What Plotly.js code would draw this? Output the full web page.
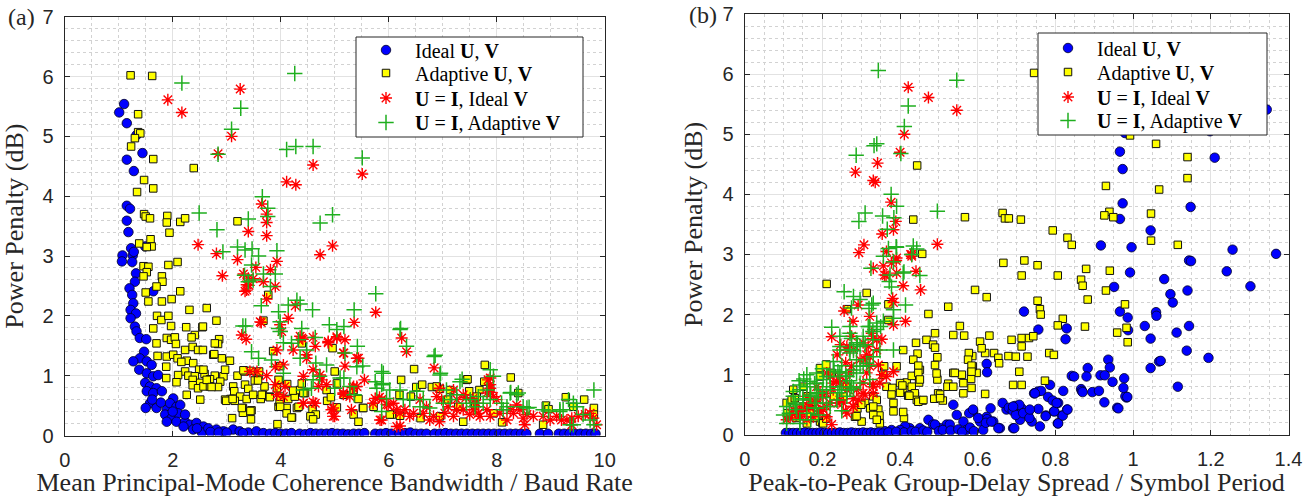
<!DOCTYPE html>
<html><head><meta charset="utf-8">
<script src="https://cdn.plot.ly/plotly-3.0.1.min.js"></script>
<style>html,body{margin:0;padding:0;background:#fff}#chart{width:1316px;height:497px}</style>
</head><body><div id="chart"></div>
<script>
// ---------- data: panel (a) x = mean principal-mode coherence bandwidth / baud rate ----------
const leftIdealPts = [[1.10,5.54],[1.01,5.40],[1.15,5.22],[1.33,5.02],[1.44,4.72],[1.15,4.61],[1.28,4.42],[1.15,3.84],[1.21,3.79],[1.15,3.59],[1.18,3.40],[1.23,3.13],[1.49,3.16],[1.07,3.01],[1.06,2.91],[1.26,3.01],[1.28,3.07],[1.25,2.90],[1.32,2.71],[1.30,2.57],[1.20,2.46],[1.25,2.35],[1.27,2.21],[1.22,2.10],[1.32,2.04],[1.22,1.96],[1.30,1.82],[1.33,1.74],[1.39,1.63],[1.51,1.61],[1.47,1.40],[1.64,2.41],[1.39,1.29],[1.27,1.24],[1.52,1.24],[1.61,1.18],[1.38,1.10],[1.52,1.04],[1.64,0.99],[1.73,1.01],[1.49,0.88],[1.58,0.82],[1.70,0.79],[1.52,0.74],[1.64,0.71],[1.80,0.74],[1.58,0.54],[1.50,0.46],[1.70,0.46],[1.89,0.43],[2.01,0.62],[1.95,0.54],[2.07,0.48],[2.14,0.51],[1.86,0.35],[1.98,0.29],[2.10,0.37],[1.89,0.23],[2.07,0.23],[2.23,0.23],[2.32,0.18],[2.44,0.21],[2.57,0.15],[2.38,0.10],[2.54,0.05],[2.66,0.12],[2.81,0.10],[2.94,0.07],[3.12,0.10],[3.24,0.07],[3.40,0.05],[3.55,0.07],[3.68,0.04],[2.23,0.35],[1.78,0.55],[1.62,0.60],[2.00,0.40],[2.20,0.15],[2.45,0.12],[2.70,0.06],[2.85,0.05],[3.00,0.05],[3.30,0.04],
[3.80,0.03],[3.90,0.04],[4.00,0.03],[4.10,0.03],[4.20,0.04],[4.35,0.03],[4.45,0.02],[4.55,0.04],[4.65,0.03],[4.75,0.03],[4.85,0.03],[4.95,0.04],[5.05,0.03],[5.15,0.03],[5.25,0.02],[5.35,0.03],[5.45,0.03],[5.55,0.04],[5.75,0.03],[5.85,0.03],[5.95,0.04],[6.05,0.03],[6.20,0.03],[6.30,0.04],[6.40,0.05],[6.50,0.03],[6.60,0.03],[6.70,0.03],[6.85,0.03],[6.95,0.03],[7.05,0.04],[7.15,0.03],[7.25,0.03],[7.35,0.03],[7.45,0.03],[7.55,0.03],[7.65,0.03],[7.75,0.03],[7.85,0.03],[7.95,0.03],[8.05,0.03],[8.15,0.03],[8.25,0.03],[8.35,0.03],[8.45,0.03],[8.55,0.03],[8.80,0.03],[8.95,0.03],[9.15,0.03],[9.25,0.03],[9.35,0.03],[9.45,0.03],[9.55,0.03],[9.65,0.03],[9.75,0.03],[9.83,0.03]];
const leftAdaptPts = [[1.22,6.02],[1.62,6.01],[1.36,5.37],[1.36,5.07],[1.40,5.05],[1.30,4.97],[1.23,4.83],[1.64,4.62],[2.39,4.47],[1.47,4.27],[1.64,4.13],[1.34,4.07],[1.47,3.70],[1.50,3.66],[1.58,3.63],[1.90,3.67],[1.89,3.56],[1.94,3.39],[2.14,3.57],[2.23,3.63],[3.20,3.58],[1.38,3.21],[1.59,3.28],[1.61,3.16],[1.52,3.15],[1.46,2.83],[1.55,2.82],[1.52,2.73],[1.46,2.66],[1.80,2.66],[1.81,2.57],[1.92,2.85],[2.09,2.90],[1.70,2.49],[1.50,2.39],[2.14,2.41],[1.55,2.24],[1.80,2.24],[1.98,2.28],[2.31,2.10],[2.63,2.13],[1.71,2.00],[1.79,1.93],[1.92,2.00],[2.81,1.92],[1.97,1.83],[2.25,1.81],[2.55,1.81],[1.64,1.79],[2.41,1.68],[2.35,1.64],[1.89,1.63],[1.97,1.60],[2.04,1.64],[1.70,1.54],[2.06,1.53],[2.86,1.61],[2.84,1.53],[1.72,1.33],[1.89,1.32],[2.01,1.35],[2.23,1.43],[2.37,1.48],[2.47,1.43],[2.75,1.35],[2.91,1.29],[3.06,1.25],[2.09,1.29],[2.26,1.25],[2.16,1.23],[2.38,1.21],[2.49,1.10],[1.88,1.15],[2.23,1.07],[2.10,1.01],[2.29,1.00],[2.41,0.99],[2.59,1.03],[2.78,1.00],[2.94,0.99],[3.20,1.00],[3.33,1.07],[3.44,1.08],[3.59,1.01],[1.88,0.96],[2.07,0.89],[2.37,0.93],[2.51,0.88],[2.69,0.94],[2.88,0.90],[2.37,0.84],[2.47,0.79],[2.57,0.82],[2.69,0.82],[2.84,0.81],[3.12,0.82],[3.34,0.85],[3.40,0.78],[3.14,0.74],[3.07,0.61],[3.25,0.65],[3.37,0.61],[3.49,0.68],[3.67,0.68],[3.79,0.65],[3.63,0.61],[2.26,0.68],[2.51,0.60],[2.97,0.60],[3.15,0.58],[3.30,0.46],[3.30,0.38],[3.46,0.42],[3.45,0.27],[3.10,0.29],[3.94,0.19],[3.96,0.48],[4.11,0.46],[4.14,0.61],[4.26,0.65],[4.21,0.30],[3.98,0.56],[4.30,0.46],[3.70,0.82],[3.93,0.79],[4.12,0.86],[4.23,0.75],[3.68,1.92],[3.77,2.35],[2.56,1.82],[2.78,1.54],[2.77,1.36],[2.56,1.43],[2.57,1.10],[2.97,1.10],[3.31,1.09],[3.60,1.07],[3.86,1.41],[3.99,1.16],[2.63,0.93],[2.72,0.81],[3.52,0.92],[3.58,0.92],[3.65,0.68],[3.80,0.64],[3.99,0.65],[3.96,0.93],[4.36,0.76],[4.39,0.87],[4.45,0.71],[4.33,0.48],[3.99,0.48],[4.11,0.37],[4.20,0.30],[2.99,0.58],[3.11,0.61],[3.28,0.46],[3.44,0.41],[4.59,0.44],[4.65,0.35],[4.55,0.32],[4.60,0.27],[4.85,0.76],[5.00,1.07],[5.04,0.87],[4.96,1.46],[4.86,0.58],[4.93,0.64],[5.04,0.47],[5.17,0.68],[5.35,0.76],[5.44,0.61],[5.52,0.46],[5.35,0.35],[5.44,0.23],[5.72,0.48],[6.06,0.35],[4.42,0.71],[4.39,1.54],[6.47,1.11],[6.23,0.93],[7.78,1.18],[8.26,0.97],[6.51,0.81],[6.62,0.85],[6.20,0.68],[6.41,0.65],[6.80,0.81],[6.95,0.78],[7.14,0.76],[7.44,0.93],[7.49,0.74],[7.68,0.76],[7.88,0.78],[7.77,0.90],[8.40,0.71],[6.21,0.33],[6.59,0.29],[6.95,0.32],[7.38,0.23],[7.94,0.37],[8.10,0.22],[8.86,0.18],[8.91,0.50],[9.28,0.64],[9.42,0.48],[9.62,0.60],[9.80,0.46],[9.80,0.35],[8.96,0.44],[7.10,0.60],[7.29,0.48],[7.60,0.50],[7.63,0.65],[6.02,0.35],[6.89,0.82],[7.46,0.94],[5.53,0.46]];
const leftUIIdealPts = [[1.91,5.61],[2.17,5.40],[3.25,5.79],[3.09,5.00],[2.84,4.71],[4.60,4.52],[4.11,4.24],[4.28,4.19],[3.65,3.87],[3.74,3.70],[3.74,3.56],[3.40,3.41],[3.74,3.34],[2.47,3.19],[5.51,4.37],[4.96,3.17],[2.81,3.04],[3.20,2.94],[2.92,2.67],[3.31,2.70],[3.40,2.63],[3.49,2.62],[3.37,2.52],[3.37,2.43],[3.68,2.57],[3.90,2.49],[3.74,2.28],[3.62,1.90],[3.93,2.91],[4.27,2.17],[4.14,1.96],[3.99,1.85],[4.02,1.74],[3.28,1.68],[3.36,1.61],[4.39,1.63],[4.60,1.64],[3.93,1.43],[4.23,1.43],[4.48,1.29],[4.05,1.18],[3.43,1.07],[3.56,1.07],[3.74,1.00],[3.90,1.15],[4.60,1.10],[4.73,1.01],[4.42,0.99],[3.90,0.85],[4.08,0.82],[4.05,0.65],[4.42,0.54],[4.60,0.56],[4.70,0.82],[4.73,3.02],[3.54,2.81],[3.81,2.77],[3.41,2.51],[3.34,2.41],[5.76,2.06],[5.36,1.89],[3.64,1.89],[4.41,1.61],[4.64,1.49],[4.88,1.55],[5.04,1.63],[5.19,1.60],[5.17,1.38],[5.44,1.29],[5.19,1.16],[4.76,0.93],[4.85,0.85],[5.16,0.69],[5.31,0.43],[5.41,0.82],[5.55,0.93],[4.97,0.46],[5.00,0.32],[5.75,0.62],[5.87,0.26],[5.83,0.64],[6.15,0.15],[5.99,0.51],[3.93,0.68],[6.24,1.63],[6.33,1.40],[6.84,1.13],[7.84,0.93],[7.88,0.79],[7.94,0.65],[6.21,0.16],[6.09,0.54],[6.30,0.43],[6.46,0.37],[6.64,0.37],[6.83,0.32],[6.94,0.23],[7.04,0.37],[7.20,0.32],[7.38,0.43],[7.50,0.35],[7.66,0.37],[7.82,0.43],[6.94,0.79],[7.20,0.76],[7.38,0.68],[7.56,0.62],[6.98,0.60],[8.06,0.37],[8.19,0.26],[8.31,0.37],[8.37,0.51],[8.49,0.29],[8.52,0.18],[8.56,0.35],[8.86,0.32],[8.99,0.26],[9.20,0.26],[9.39,0.29],[9.51,0.32],[9.64,0.35],[9.79,0.29],[9.85,0.18],[9.39,0.18],[6.58,0.60],[7.43,0.63],[7.88,0.96],[7.88,0.85],[7.89,0.72],[4.36,1.66],[4.48,1.35],[4.88,1.57],[5.04,1.65],[5.16,1.38],[5.41,1.29],[5.35,0.82],[4.94,0.43],[4.97,0.32],[5.84,0.26],[4.64,0.54],[4.42,0.54],[5.16,0.71],[5.28,0.65],[5.33,0.80],[5.71,0.54],[5.87,0.60],[5.96,0.52],[6.21,0.37],[6.15,0.43],[6.39,0.32],[6.70,0.48],[7.10,0.48],[7.26,0.43],[7.57,0.43],[7.69,0.32],[7.88,0.32],[8.00,0.60],[8.25,0.43],[8.43,0.43],[8.68,0.32],[9.11,0.32],[9.30,0.26],[9.73,0.37],[6.89,0.65],[7.26,0.60],[7.63,0.54],[7.82,0.71],[6.76,0.26]];
const leftUIAdaptPts = [[2.17,5.89],[4.26,6.05],[3.26,5.47],[3.09,5.12],[2.84,4.70],[4.11,4.78],[4.28,4.83],[4.60,4.83],[3.66,3.99],[3.76,3.80],[3.76,3.66],[2.49,3.72],[3.40,3.62],[2.82,3.44],[4.73,3.55],[4.96,3.69],[5.51,4.64],[2.93,3.07],[3.20,3.15],[3.34,3.10],[3.47,3.12],[3.93,3.09],[3.59,3.00],[3.46,2.85],[3.33,2.68],[3.49,2.60],[3.68,2.70],[3.90,2.70],[3.81,2.49],[3.40,2.57],[3.64,2.17],[3.96,2.07],[4.14,2.18],[4.30,2.26],[4.59,2.10],[3.99,1.90],[3.30,1.83],[3.35,1.83],[3.96,1.79],[3.99,1.74],[5.36,2.10],[5.76,2.37],[4.90,1.85],[5.04,1.77],[5.17,1.82],[6.21,1.77],[4.39,1.79],[4.64,1.64],[4.05,1.55],[4.20,1.54],[4.33,1.60],[3.46,1.40],[4.48,1.43],[4.36,1.29],[3.59,1.29],[3.83,1.26],[4.65,1.21],[4.85,1.18],[5.42,1.49],[5.19,1.38],[5.41,1.15],[5.52,1.16],[5.87,1.07],[4.05,1.04],[4.60,0.93],[4.72,0.99],[5.10,0.96],[5.17,0.96],[5.75,0.90],[4.42,0.76],[4.57,0.79],[5.00,0.79],[5.28,0.82],[5.36,0.68],[5.78,0.79],[5.87,0.85],[6.02,0.76],[5.96,0.62],[5.87,0.40],[6.33,1.49],[6.84,1.32],[7.88,1.10],[7.94,0.99],[6.95,1.01],[6.21,0.76],[6.39,0.60],[6.52,0.74],[6.64,0.60],[6.76,0.46],[7.07,0.76],[7.14,0.60],[7.26,0.68],[7.32,0.90],[7.36,0.94],[7.51,0.60],[7.60,0.48],[7.66,0.65],[7.75,0.54],[7.88,0.60],[8.09,0.54],[8.25,0.71],[8.37,0.68],[8.56,0.46],[8.60,0.47],[8.86,0.43],[8.96,0.41],[9.17,0.43],[9.33,0.60],[9.42,0.18],[9.60,0.35],[9.80,0.76],[9.73,0.26],[9.80,0.18],[8.12,0.43],[6.86,1.34],[6.96,1.04],[8.26,0.72],[8.40,0.71],[9.42,0.54],[9.17,0.40],[9.36,0.18],[6.22,1.79],[4.36,2.20],[5.90,1.04],[5.90,0.87],[6.27,0.60],[6.58,0.48],[7.01,0.54],[7.44,0.54],[7.82,0.76],[8.19,0.48],[8.49,0.48],[9.23,0.43],[9.48,0.48]];

// ---------- data: panel (b) x = peak-to-peak group-delay spread / symbol period ----------
const rightIdealPts = [[1.344,5.41],[0.979,5.02],[1.198,5.05],[0.966,4.71],[0.973,4.42],[1.210,4.61],[0.973,3.85],[0.966,3.59],[1.148,3.79],[1.045,3.40],[0.917,3.15],[0.996,3.12],[1.256,3.08],[1.368,3.01],[1.144,2.90],[1.149,2.89],[1.241,2.72],[0.992,2.70],[1.080,2.59],[1.302,2.47],[0.951,2.46],[1.140,2.40],[1.096,2.34],[1.102,2.20],[0.719,2.05],[0.966,2.05],[1.059,2.04],[1.060,1.98],[0.986,1.95],[1.030,1.81],[1.144,1.81],[0.756,1.75],[0.829,1.77],[0.987,1.74],[1.112,1.70],[0.826,1.59],[1.045,1.60],[1.138,1.40],[1.194,1.28],[1.067,1.22],[1.071,1.23],[0.936,1.25],[0.883,1.11],[0.940,1.12],[1.045,1.11],[0.977,0.94],[1.115,0.80],[0.842,0.98],[0.848,0.97],[0.880,0.97],[0.916,0.99],[0.927,0.99],[0.947,0.88],[0.786,0.83],[0.745,0.69],[0.755,0.72],[0.820,0.73],[0.866,0.76],[0.868,0.73],[0.870,0.71],[0.895,0.71],[0.912,0.73],[0.983,0.62],[0.980,0.64],[0.781,0.63],[0.793,0.57],[0.807,0.53],[0.926,0.54],[0.959,0.45],[0.830,0.42],[0.816,0.32],[0.796,0.39],[0.775,0.32],[0.806,0.19],[0.760,0.14],[0.756,0.43],[0.739,0.22],[0.730,0.37],[0.713,0.44],[0.691,0.11],[0.696,0.48],[0.709,0.25],[0.674,0.42],[0.664,0.53],[0.680,0.45],[0.690,0.40],[0.657,0.11],[0.623,1.18],[0.624,1.04],[0.537,0.50],[0.473,0.25],[0.546,0.33],[0.588,0.39],[0.623,0.30],[0.640,0.22],[0.653,0.11],[0.563,0.22],[0.606,0.22],[0.614,0.08],[0.571,0.08],[0.520,0.17],[0.503,0.11],[0.485,0.17],[0.451,0.11],[0.425,0.11],[0.413,0.14],[0.400,0.08],[0.378,0.08],[0.361,0.06],[0.707,0.50],[0.698,0.33],[0.717,0.36],[0.733,0.28],[0.633,0.44],[0.624,0.26],[0.601,0.28],[0.578,0.36],[0.588,0.42],[0.621,0.20],[0.635,0.22],[0.528,0.17],[0.490,0.17],[0.694,0.11],[0.775,0.31],[0.807,0.19],[0.819,0.32],[0.962,0.44],[0.985,0.63],[0.975,0.78],[0.797,0.39],[0.803,0.53],[0.831,0.42],[0.734,0.42],[0.691,0.47],[0.763,0.73],[0.747,0.69],
[0.106,0.03],[0.115,0.03],[0.125,0.03],[0.135,0.03],[0.145,0.03],[0.155,0.04],[0.165,0.03],[0.175,0.03],[0.185,0.03],[0.195,0.04],[0.205,0.03],[0.215,0.03],[0.225,0.03],[0.235,0.03],[0.245,0.04],[0.255,0.03],[0.265,0.03],[0.275,0.04],[0.285,0.03],[0.295,0.03],[0.305,0.04],[0.315,0.03],[0.325,0.04],[0.335,0.03],[0.345,0.04],[0.355,0.02],[0.370,0.04],[0.390,0.05],[0.410,0.04],[0.430,0.06],[0.440,0.05],[0.460,0.07],[0.470,0.05],[0.500,0.06],[0.510,0.08],[0.530,0.07],[0.550,0.09],[0.560,0.05],[0.580,0.12],[0.590,0.06]];
const rightAdaptPts = [[0.745,6.02],[0.992,4.98],[1.059,4.84],[1.140,4.62],[1.140,4.27],[0.930,4.14],[1.067,4.08],[1.046,3.68],[0.939,3.71],[0.926,3.65],[0.949,3.62],[0.793,3.40],[0.831,3.28],[0.842,3.16],[1.046,3.23],[1.115,3.16],[0.664,3.69],[0.670,3.60],[0.680,3.60],[0.711,3.58],[0.444,4.48],[0.434,3.58],[0.567,3.62],[0.457,3.01],[0.666,2.86],[0.720,2.90],[0.754,2.82],[0.713,2.65],[0.806,2.65],[0.879,2.76],[0.866,2.58],[0.870,2.48],[0.940,2.73],[0.930,2.40],[0.593,2.41],[0.623,2.29],[0.524,2.13],[0.473,2.01],[0.883,2.25],[0.754,2.23],[0.760,2.09],[0.762,2.00],[0.819,1.93],[0.806,1.82],[0.876,1.80],[0.979,2.17],[0.983,1.78],[0.959,1.70],[0.986,1.54],[0.554,1.81],[0.537,1.66],[0.565,1.65],[0.490,1.69],[0.468,1.58],[0.485,1.50],[0.490,1.45],[0.496,1.29],[0.490,1.16],[0.408,1.41],[0.445,1.35],[0.434,1.25],[0.451,1.08],[0.444,0.98],[0.417,0.87],[0.449,0.87],[0.430,0.80],[0.408,0.75],[0.421,0.65],[0.438,0.69],[0.443,0.58],[0.458,0.57],[0.498,0.69],[0.488,0.60],[0.510,0.57],[0.503,0.67],[0.524,0.85],[0.522,0.80],[0.537,1.03],[0.559,1.00],[0.563,0.86],[0.583,1.03],[0.597,1.03],[0.587,1.14],[0.586,1.31],[0.577,1.36],[0.606,1.55],[0.630,1.65],[0.619,1.36],[0.642,1.36],[0.653,1.28],[0.655,1.19],[0.583,0.93],[0.584,0.78],[0.563,0.69],[0.619,0.68],[0.610,1.44],[0.679,1.31],[0.698,1.30],[0.728,1.30],[0.707,1.05],[0.687,1.58],[0.713,1.61],[0.732,1.61],[0.743,1.64],[0.713,1.47],[0.784,1.36],[0.796,1.33],[0.773,0.90],[0.691,0.83],[0.713,0.83],[0.314,2.36],[0.211,2.51],[0.370,2.17],[0.263,2.09],[0.370,1.91],[0.441,1.53],[0.575,1.25],[0.584,1.15],[0.584,1.05],[0.541,1.03],[0.447,1.15],[0.391,1.14],[0.194,1.11],[0.430,0.98],[0.447,1.03],[0.451,0.92],[0.400,0.86],[0.365,0.80],[0.380,0.78],[0.378,0.67],[0.400,0.70],[0.424,0.65],[0.447,0.55],[0.460,0.58],[0.331,0.64],[0.340,0.58],[0.310,0.53],[0.323,0.44],[0.344,0.42],[0.347,0.32],[0.348,0.19],[0.301,0.22],[0.284,0.30],[0.290,0.44],[0.383,0.53],[0.383,0.39],[0.410,0.28],[0.503,0.61],[0.537,0.80],[0.496,0.92],[0.108,0.53],[0.121,0.58],[0.194,0.22],[0.200,0.20],[0.110,0.36],[0.168,0.36],[0.151,0.47],[0.194,0.97],[0.224,1.03],[0.263,0.80],[0.254,0.64],[0.230,0.64],[0.408,0.38],[0.331,0.47],[0.331,0.33],[0.340,0.25],[0.288,0.31],[0.300,0.50],[0.359,1.14],[0.357,1.00],[0.406,0.82],[0.494,1.02],[0.202,0.19],[0.210,0.27],[0.177,0.55],[0.160,0.64],[0.151,0.80],[0.125,0.75],[0.129,0.61],[0.132,0.28],[0.160,0.19],[0.181,0.28],[0.210,1.17]];
const rightUIIdealPts = [[0.421,5.78],[0.473,5.61],[0.546,5.40],[0.411,5.00],[0.400,4.70],[0.342,4.52],[0.285,4.37],[0.331,4.23],[0.336,4.20],[0.377,3.87],[0.389,3.55],[0.383,3.41],[0.354,3.34],[0.307,3.16],[0.496,3.17],[0.430,2.97],[0.430,3.00],[0.441,2.72],[0.408,2.48],[0.453,2.41],[0.414,1.89],[0.294,3.03],[0.365,3.05],[0.357,2.81],[0.378,2.86],[0.391,2.94],[0.331,2.77],[0.360,2.66],[0.391,2.69],[0.381,2.27],[0.427,3.00],[0.383,1.83],[0.322,1.97],[0.279,1.89],[0.256,2.06],[0.292,2.16],[0.224,1.63],[0.275,1.64],[0.327,1.69],[0.330,1.60],[0.353,1.59],[0.318,1.47],[0.340,1.41],[0.263,1.47],[0.280,1.42],[0.238,1.33],[0.314,1.33],[0.310,1.25],[0.322,1.14],[0.344,1.16],[0.275,1.14],[0.260,1.20],[0.383,1.05],[0.353,1.00],[0.331,0.80],[0.305,0.69],[0.310,0.66],[0.211,1.03],[0.220,0.97],[0.245,0.86],[0.260,0.90],[0.228,0.75],[0.210,0.69],[0.185,0.58],[0.168,0.47],[0.194,0.39],[0.211,0.30],[0.224,0.17],[0.142,0.30],[0.160,0.25],[0.121,0.36],[0.108,0.25],[0.140,0.40],[0.185,0.80],[0.254,0.53],[0.279,0.47],[0.260,0.40],[0.240,0.53],[0.280,0.60],[0.330,0.84],[0.364,2.65],[0.390,2.90],[0.383,2.20],[0.247,1.50],[0.237,0.89],[0.202,0.64],[0.181,0.55],[0.164,0.47],[0.145,0.39],[0.117,0.28],[0.263,0.36],[0.292,0.58],[0.210,0.47],[0.190,0.40],[0.125,0.42],[0.151,0.47],[0.177,0.30],[0.202,0.42],[0.220,0.53],[0.245,0.58],[0.263,0.75],[0.288,0.75],[0.305,0.86],[0.314,1.03],[0.271,1.03],[0.245,0.97],[0.228,0.86],[0.297,1.25],[0.322,1.30],[0.340,1.58],[0.305,1.53],[0.263,1.41],[0.194,0.69],[0.160,0.64],[0.142,0.33],[0.280,0.47],[0.331,0.69],[0.348,0.86],[0.365,0.97]];
const rightUIAdaptPts = [[0.344,6.06],[0.546,5.90],[0.421,5.47],[0.411,5.13],[0.340,4.84],[0.333,4.81],[0.287,4.65],[0.402,4.68],[0.377,4.00],[0.391,3.80],[0.384,3.61],[0.310,3.69],[0.294,3.55],[0.355,3.64],[0.367,3.42],[0.496,3.72],[0.434,3.14],[0.390,3.13],[0.370,3.10],[0.430,3.00],[0.451,2.65],[0.410,2.71],[0.414,2.16],[0.325,2.77],[0.391,3.12],[0.443,3.09],[0.357,2.97],[0.383,2.88],[0.374,2.66],[0.372,2.55],[0.408,2.69],[0.378,2.46],[0.383,2.08],[0.383,1.94],[0.327,2.16],[0.320,2.10],[0.297,2.25],[0.275,2.11],[0.256,2.38],[0.318,1.80],[0.340,1.86],[0.350,1.80],[0.383,1.41],[0.224,1.79],[0.271,1.80],[0.245,1.64],[0.275,1.60],[0.297,1.47],[0.271,1.36],[0.245,1.41],[0.228,1.22],[0.250,1.15],[0.288,1.25],[0.305,1.14],[0.320,1.15],[0.288,1.03],[0.260,0.98],[0.240,1.05],[0.211,0.97],[0.185,1.03],[0.160,1.00],[0.142,0.83],[0.125,0.72],[0.160,0.80],[0.180,0.85],[0.200,0.75],[0.220,0.80],[0.250,0.75],[0.275,0.80],[0.108,0.47],[0.115,0.36],[0.130,0.53],[0.150,0.60],[0.170,0.66],[0.180,0.53],[0.200,0.62],[0.220,0.47],[0.142,0.19],[0.170,0.25],[0.190,0.33],[0.250,0.40],[0.100,0.33],[0.280,2.30],[0.331,2.19],[0.340,1.75],[0.330,1.72],[0.310,1.50],[0.290,1.50],[0.270,1.42],[0.280,1.40],[0.152,0.93],[0.140,0.90],[0.200,1.10],[0.230,1.08],[0.130,0.50],[0.180,0.45],[0.190,0.70],[0.240,0.70],[0.280,0.78],[0.270,0.90],[0.168,0.89],[0.185,0.86],[0.202,0.92],[0.220,0.97],[0.245,1.03],[0.263,0.97],[0.280,1.08],[0.297,1.14],[0.314,1.19],[0.331,1.30],[0.348,1.41],[0.142,0.75],[0.125,0.64],[0.151,0.58],[0.168,0.64],[0.185,0.69],[0.211,0.75],[0.245,0.80],[0.271,0.75],[0.297,0.86],[0.322,0.92],[0.134,0.42],[0.160,0.36],[0.185,0.44],[0.211,0.53],[0.237,0.58],[0.263,0.64],[0.108,0.19],[0.142,0.25],[0.288,1.53],[0.305,1.64],[0.245,1.47],[0.271,1.69],[0.322,1.80],[0.357,1.89],[0.330,1.58]];

const seriesNames = ['Ideal <b>U</b>, <b>V</b>', 'Adaptive <b>U</b>, <b>V</b>', '<b>U</b> = <b>I</b>, Ideal <b>V</b>', '<b>U</b> = <b>I</b>, Adaptive <b>V</b>'];
const xTitles = ['Mean Principal-Mode Coherence Bandwidth / Baud Rate', 'Peak-to-Peak Group-Delay Spread / Symbol Period'];
const yTitle = 'Power Penalty (dB)';
const panelLabels = ['(a)', '(b)'];

// ---------- styling ----------
const SERIF = 'Liberation Serif, Times New Roman, serif';
const SANS = 'Liberation Sans, Arial, Helvetica, sans-serif';
const GREEN = '#1faf1f';
const markerStyles = [
  {symbol:'circle', size:9.5, color:'#0000ff', line:{color:'#000022', width:0.8}},
  {symbol:'square', size:7.5, color:'#ffff00', line:{color:'#111111', width:1}},
  {symbol:'asterisk-open', size:10, color:'#ff0000', line:{color:'#ff0000', width:1.4}},
  {symbol:'cross-thin-open', size:11, color:GREEN, line:{color:GREEN, width:1.5}}
];

const W = 1316, H = 497;
const px = v => v / W, py = v => 1 - v / H;

// legend rows (pixel centres) for each panel; one single-entry legend per row
const legendRowsLeft = [50, 73, 98, 122.5];
const legendRowsRight = [48, 72, 97, 120.5];

function mk(pts, i, xa, ya, legId) {
  return {
    type:'scatter', mode:'markers',
    x: pts.map(p => p[0]), y: pts.map(p => p[1]),
    xaxis: xa, yaxis: ya, name: seriesNames[i],
    marker: markerStyles[i], legend: legId,
    hoverinfo:'skip'
  };
}
const data = [
  mk(leftIdealPts,0,'x','y','legend'), mk(leftAdaptPts,1,'x','y','legend2'),
  mk(leftUIIdealPts,2,'x','y','legend3'), mk(leftUIAdaptPts,3,'x','y','legend4'),
  mk(rightIdealPts,0,'x2','y2','legend5'), mk(rightAdaptPts,1,'x2','y2','legend6'),
  mk(rightUIIdealPts,2,'x2','y2','legend7'), mk(rightUIAdaptPts,3,'x2','y2','legend8')
];

function axis(extra, minorDtick) {
  return Object.assign({
    showline:true, mirror:'ticks', linecolor:'#262626', linewidth:1,
    ticks:'inside', ticklen:5, tickcolor:'#262626', tickwidth:1,
    showgrid:true, gridcolor:'#e2e2e2', gridwidth:1, zeroline:false,
    tickfont:{family:SANS, size:20, color:'#262626'},
    minor:{dtick:minorDtick, showgrid:true, gridcolor:'#d2d2d2', griddash:'dot', gridwidth:1, ticks:''},
    fixedrange:true, ticklabelstandoff:6
  }, extra);
}
const titleFont = {family:SERIF, size:26, color:'#262626'};

function legendAt(xPix, yPix) {
  return {
    x:px(xPix), y:py(yPix), xanchor:'left', yanchor:'middle',
    bgcolor:'rgba(0,0,0,0)', borderwidth:0,
    font:{family:SERIF, size:20, color:'#000000'}, itemwidth:48,
    itemclick:false, itemdoubleclick:false
  };
}

const layout = {
  width:W, height:H, margin:{l:0,r:0,t:0,b:0},
  paper_bgcolor:'#ffffff', plot_bgcolor:'#ffffff', showlegend:true,
  xaxis: axis({domain:[px(64.7), px(604.7)], range:[0,10], tick0:0, dtick:2, anchor:'y',
    title:{text:xTitles[0], font:titleFont, standoff:6}}, 0.5),
  yaxis: axis({domain:[py(435.5), py(16.7)], range:[0,7], tick0:0, dtick:1, anchor:'x',
    title:{text:yTitle, font:titleFont, standoff:12}}, 0.2),
  xaxis2: axis({domain:[px(744.7), px(1288.5)], range:[0,1.4], tick0:0, dtick:0.2, anchor:'y2',
    title:{text:xTitles[1], font:titleFont, standoff:6}}, 0.05),
  yaxis2: axis({domain:[py(434.8), py(14)], range:[0,7], tick0:0, dtick:1, anchor:'x2',
    title:{text:yTitle, font:titleFont, standoff:12}}, 0.2),
  legend:  legendAt(357, legendRowsLeft[0]),
  legend2: legendAt(357, legendRowsLeft[1]),
  legend3: legendAt(357, legendRowsLeft[2]),
  legend4: legendAt(357, legendRowsLeft[3]),
  legend5: legendAt(1039, legendRowsRight[0]),
  legend6: legendAt(1039, legendRowsRight[1]),
  legend7: legendAt(1039, legendRowsRight[2]),
  legend8: legendAt(1039, legendRowsRight[3]),
  shapes: [
    {type:'rect', xref:'paper', yref:'paper', x0:px(356), x1:px(583), y0:py(137), y1:py(37),
     fillcolor:'#ffffff', line:{color:'#262626', width:1}, layer:'above'},
    {type:'rect', xref:'paper', yref:'paper', x0:px(1038), x1:px(1267), y0:py(135), y1:py(33),
     fillcolor:'#ffffff', line:{color:'#262626', width:1}, layer:'above'}
  ],
  annotations: [
    {text:panelLabels[0], xref:'paper', yref:'paper', x:px(6), y:py(17), xanchor:'left', yanchor:'middle',
     showarrow:false, font:{family:SERIF, size:24, color:'#262626'}},
    {text:panelLabels[1], xref:'paper', yref:'paper', x:px(687), y:py(15), xanchor:'left', yanchor:'middle',
     showarrow:false, font:{family:SERIF, size:24, color:'#262626'}}
  ]
};

Plotly.newPlot('chart', data, layout, {staticPlot:true, displayModeBar:false});
</script>
</body></html>
